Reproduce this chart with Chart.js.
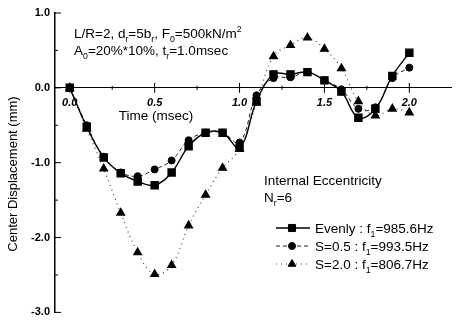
<!DOCTYPE html>
<html>
<head>
<meta charset="utf-8">
<script src="https://cdn.jsdelivr.net/npm/chart.js@4.4.0/dist/chart.umd.min.js"></script>
<style>
  html, body { margin: 0; padding: 0; background: #fff; }
  #wrap { width: 458px; height: 324px; }
</style>
</head>
<body>
<div id="wrap"><canvas id="grafico" width="458" height="324"></canvas></div>
<script>
const times  = [0.0, 0.1, 0.2, 0.3, 0.4, 0.5, 0.6, 0.7, 0.8, 0.9, 1.0, 1.1, 1.2, 1.3, 1.4, 1.5, 1.6, 1.7, 1.8, 1.9, 2.0];
const evenly = [0, -0.52, -0.93, -1.14, -1.25, -1.30, -1.13, -0.78, -0.60, -0.60, -0.80, -0.18, 0.18, 0.18, 0.21, 0.10, -0.05, -0.40, -0.28, 0.16, 0.47];
const halfS  = [0, -0.50, -0.92, -1.13, -1.18, -1.09, -0.97, -0.70, -0.60, -0.60, -0.73, -0.10, 0.13, 0.14, 0.21, 0.10, -0.02, -0.28, -0.26, 0.13, 0.27];
const twoS   = [0, -0.55, -1.08, -1.67, -2.20, -2.49, -2.37, -1.84, -1.43, -1.07, -0.82, -0.20, 0.42, 0.57, 0.67, 0.52, 0.26, -0.18, -0.37, -0.28, -0.33];

const seriesNames = ['Evenly', 'S=0.5', 'S=2.0'];
const freqs = ['985.6', '993.5', '806.7'];
const xTicks = [0.0, 0.5, 1.0, 1.5, 2.0];
const yTicks = [1.0, 0.0, -1.0, -2.0, -3.0];

const FONT = '"Liberation Sans", Arial, sans-serif';

// text with sub/superscripts, parts = [[text, kind], ...]
function richText(ctx, x, y, parts, size) {
  let cx = x;
  for (const [txt, kind] of parts) {
    let s = size, dy = 0;
    if (kind === 'sub') { s = size * 0.65; dy = size * 0.3; }
    if (kind === 'sup') { s = size * 0.65; dy = -size * 0.45; }
    ctx.font = s + 'px ' + FONT;
    ctx.fillText(txt, cx, y + dy);
    cx += ctx.measureText(txt).width;
  }
}

function seg(ctx, x1, y1, x2, y2) {
  ctx.beginPath();
  ctx.moveTo(x1, y1);
  ctx.lineTo(x2, y2);
  ctx.stroke();
}

const decor = {
  id: 'decor',
  afterDraw(chart) {
    const ctx = chart.ctx;
    const xs = chart.scales.x, ys = chart.scales.y;
    const area = chart.chartArea;
    const y0 = ys.getPixelForValue(0);
    ctx.save();
    ctx.strokeStyle = '#000';
    ctx.fillStyle = '#000';
    ctx.lineWidth = 1;

    // inward ticks on the y axis
    yTicks.forEach((v, i) => {
      const p = ys.getPixelForValue(v);
      seg(ctx, area.left, p, area.left + 6, p);
      if (i < yTicks.length - 1) {
        const m = ys.getPixelForValue((v + yTicks[i + 1]) / 2);
        seg(ctx, area.left, m, area.left + 3, m);
      }
    });
    // crossing ticks on the x axis
    xTicks.forEach((v, i) => {
      const p = xs.getPixelForValue(v);
      seg(ctx, p, y0 - 5, p, y0 + 5);
      if (i < xTicks.length - 1) {
        const m = xs.getPixelForValue((v + xTicks[i + 1]) / 2);
        seg(ctx, m, y0 - 2, m, y0 + 2);
      }
    });

    ctx.textBaseline = 'alphabetic';

    // axis titles
    ctx.font = '13.5px ' + FONT;
    ctx.textAlign = 'center';
    ctx.fillText('Time (msec)', 156, 120);
    ctx.save();
    ctx.translate(17, 174);
    ctx.rotate(-Math.PI / 2);
    ctx.font = '13px ' + FONT;
    ctx.fillText('Center Displacement (mm)', 0, 0);
    ctx.restore();
    ctx.textAlign = 'left';

    // annotation
    richText(ctx, 74, 38, [['L/R=2, d', ''], ['r', 'sub'], ['=5b', ''], ['r', 'sub'], [', F', ''], ['0', 'sub'], ['=500kN/m', ''], ['2', 'sup']], 13.5);
    richText(ctx, 74, 55, [['A', ''], ['0', 'sub'], ['=20%*10%, t', ''], ['r', 'sub'], ['=1.0msec', '']], 13.5);
    richText(ctx, 264, 185, [['Internal Eccentricity', '']], 13.5);
    richText(ctx, 264, 202, [['N', ''], ['r', 'sub'], ['=6', '']], 13.5);

    // legend
    chart.data.datasets.forEach((ds, i) => {
      const ly = 228 + i * 18;
      ctx.save();
      ctx.strokeStyle = ds.borderColor;
      ctx.lineWidth = ds.borderWidth;
      ctx.setLineDash(ds.borderDash || []);
      seg(ctx, 276, ly, 310, ly);
      ctx.restore();
      ctx.fillStyle = '#000';
      ctx.strokeStyle = '#000';
      Chart.helpers.drawPoint(ctx, { pointStyle: ds.pointStyle, radius: ds.pointRadius, rotation: 0, borderWidth: 1 }, 292, ly);
      richText(ctx, 315, ly + 5, [[seriesNames[i] + ' : f', ''], ['1', 'sub'], ['=' + freqs[i] + 'Hz', '']], 13.5);
    });
    ctx.restore();
  }
};

const toPoints = arr => times.map((t, i) => ({ x: t, y: arr[i] }));

const ctx = document.getElementById('grafico').getContext('2d');

const config = {
  type: 'line',
  data: {
    datasets: [
      {
        label: seriesNames[0],
        data: toPoints(evenly),
        borderColor: '#000',
        backgroundColor: '#000',
        pointBorderColor: '#000',
        pointBackgroundColor: '#000',
        borderWidth: 1.4,
        pointStyle: 'rect',
        pointRadius: 5,
        tension: 0.4
      },
      {
        label: seriesNames[1],
        data: toPoints(halfS),
        borderColor: '#222',
        backgroundColor: '#000',
        pointBorderColor: '#000',
        pointBackgroundColor: '#000',
        borderWidth: 1,
        borderDash: [4, 3],
        pointStyle: 'circle',
        pointRadius: 3.5,
        tension: 0.4
      },
      {
        label: seriesNames[2],
        data: toPoints(twoS),
        borderColor: '#444',
        backgroundColor: '#000',
        pointBorderColor: '#000',
        pointBackgroundColor: '#000',
        borderWidth: 1.2,
        borderDash: [1, 4],
        pointStyle: 'triangle',
        pointRadius: 4.5,
        tension: 0.4
      }
    ]
  },
  options: {
    responsive: false,
    animation: false,
    devicePixelRatio: 1,
    layout: { padding: { top: 13, bottom: 10, left: 0, right: 0 } },
    plugins: {
      legend: { display: false },
      tooltip: { enabled: false }
    },
    scales: {
      x: {
        type: 'linear',
        position: { y: 0 },
        min: -0.087,
        max: 2.249,
        afterBuildTicks: s => { s.ticks = xTicks.map(v => ({ value: v })); },
        ticks: {
          autoSkip: false,
          maxRotation: 0,
          padding: 9,
          color: '#000',
          font: { family: FONT, size: 11, weight: 'bold', style: 'italic' },
          callback: v => v.toFixed(1)
        },
        grid: { drawOnChartArea: false, drawTicks: false },
        border: { color: '#000', width: 1 }
      },
      y: {
        type: 'linear',
        position: 'left',
        min: -3,
        max: 1,
        afterBuildTicks: s => { s.ticks = yTicks.map(v => ({ value: v })); },
        afterFit: s => { s.width = 55; },
        ticks: {
          padding: 5,
          color: '#000',
          font: { family: FONT, size: 11, weight: 'bold' },
          callback: v => v.toFixed(1)
        },
        grid: { drawOnChartArea: false, drawTicks: false },
        border: { color: '#000', width: 1.5 }
      }
    }
  },
  plugins: [decor]
};

const myChart = new Chart(ctx, config);
</script>
</body>
</html>
